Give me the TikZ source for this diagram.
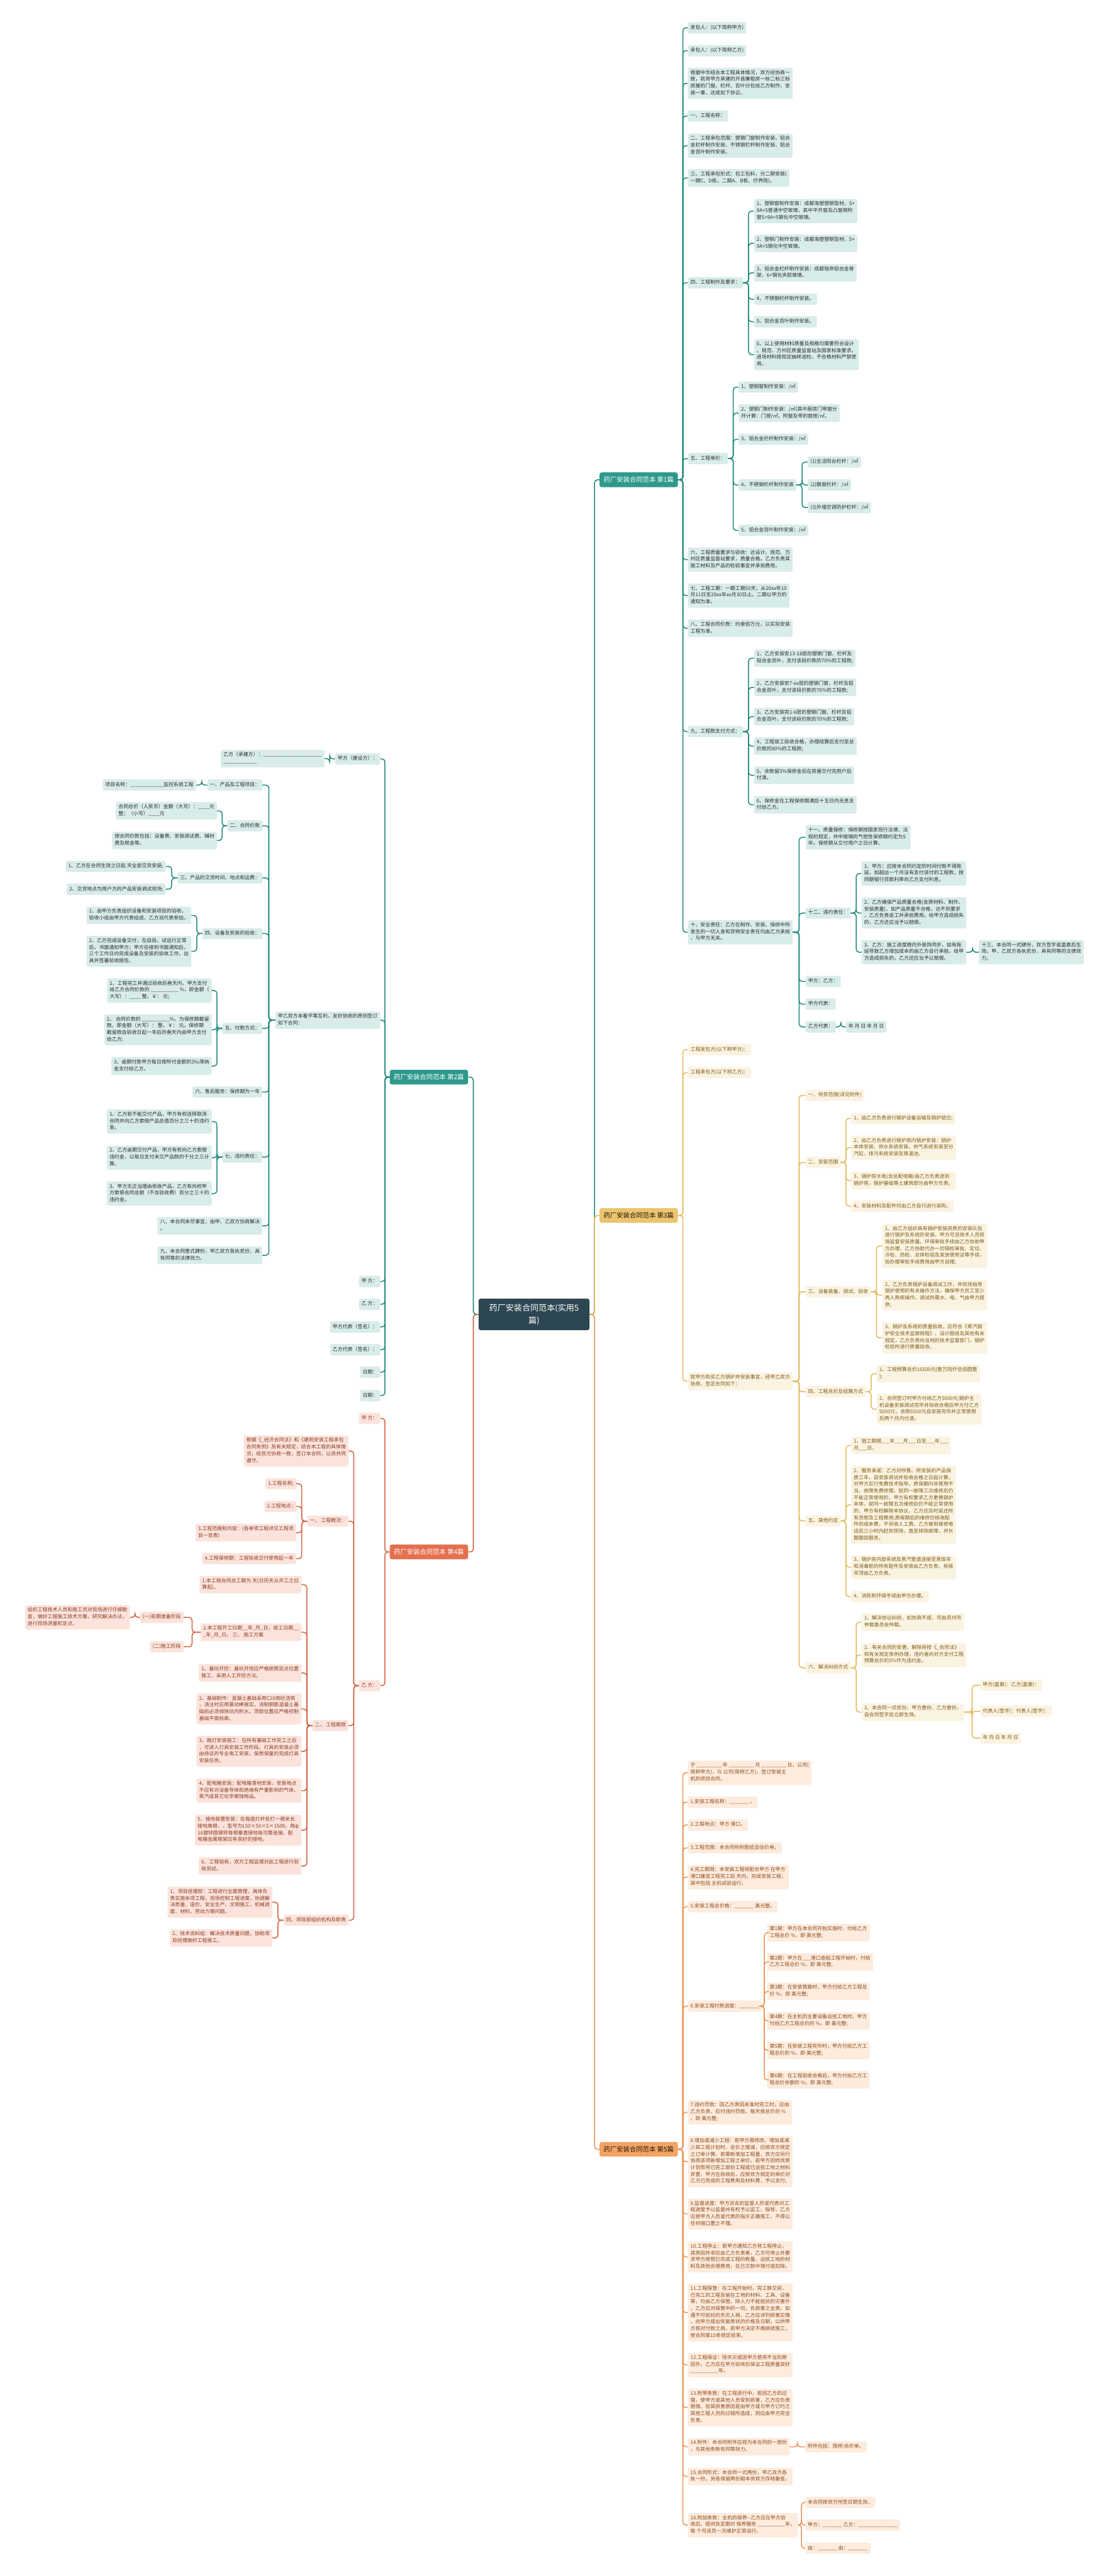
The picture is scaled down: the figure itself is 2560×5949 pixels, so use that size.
\documentclass[tikz,border=0pt]{standalone}
\usepackage{fontspec}
\newfontfamily\cjk{Noto Sans CJK SC}
\usetikzlibrary{calc}

\definecolor{hubfill}{HTML}{2C4652}
\definecolor{tealmain}{HTML}{2E9A8C}
\definecolor{tealsoft}{HTML}{D8ECEA}
\definecolor{tealline}{HTML}{1F8A7B}
\definecolor{tealtext}{HTML}{2B2B2B}
\definecolor{goldmain}{HTML}{EBC46E}
\definecolor{goldsoft}{HTML}{FBF3E1}
\definecolor{goldline}{HTML}{E3B95A}
\definecolor{goldtext}{HTML}{7A5A18}
\definecolor{redmain}{HTML}{E4704F}
\definecolor{redsoft}{HTML}{FBE3DC}
\definecolor{redline}{HTML}{D2603E}
\definecolor{redtext}{HTML}{8A3A22}
\definecolor{orgmain}{HTML}{F2A464}
\definecolor{orgsoft}{HTML}{FDEBDD}
\definecolor{orgline}{HTML}{EA9456}
\definecolor{orgtext}{HTML}{8A4A1C}

\tikzset{
  box/.style={rounded corners=4pt, inner xsep=6pt, inner ysep=5.25pt, align=left,
    font=\cjk\fontsize{11.5}{15.5}\selectfont,
    execute at begin node=\strut, execute at end node=\strut},
  tb/.style={box, fill=tealsoft, text=tealtext},
  gb/.style={box, fill=goldsoft, text=goldtext},
  rb/.style={box, fill=redsoft, text=redtext},
  ob/.style={box, fill=orgsoft, text=orgtext},
  mainbox/.style={rounded corners=5pt, minimum width=181pt, minimum height=34pt,
    inner sep=0pt, font=\cjk\fontsize{15}{18}\selectfont},
  hubbox/.style={rounded corners=5pt, minimum width=256pt, minimum height=73pt,
    align=center, fill=hubfill, text=white, font=\cjk\fontsize{19}{29}\selectfont},
  link/.style={line width=2.2pt, rounded corners=7pt},
  tl/.style={link, draw=tealline},
  gl/.style={link, draw=goldline},
  rl/.style={link, draw=redline},
  ol/.style={link, draw=orgline}
}

% elbow connectors, trunk halfway between parent and child
\newcommand{\linkR}[3]{\draw[#1] (#2.east) -| ($(#2.east)!.5!(#3.west)$) |- (#3.west);}
\newcommand{\linkL}[3]{\draw[#1] (#2.west) -| ($(#2.west)!.5!(#3.east)$) |- (#3.east);}

\begin{document}
\begin{tikzpicture}[x=1pt, y=-1pt]
  \useasboundingbox[fill=white] (0,0) rectangle (2560,5949);

  % Hub and the five parts
  \node[hubbox] (hub) at (1233,3035.5) {药厂安装合同范本(实用5\\篇)};
  \node[mainbox, fill=tealmain, text=white, anchor=west] (b1) at (1384,1108) {药厂安装合同范本 第1篇};
  \node[mainbox, fill=tealmain, text=white, anchor=east] (b2) at (1081,2487.5) {药厂安装合同范本 第2篇};
  \node[mainbox, fill=goldmain, text=black!75!goldtext, anchor=west] (b3) at (1384,2807) {药厂安装合同范本 第3篇};
  \node[mainbox, fill=redmain, text=white, anchor=east] (b4) at (1081,3584) {药厂安装合同范本 第4篇};
  \node[mainbox, fill=orgmain, text=black!70!orgtext, anchor=west] (b5) at (1384,4963.5) {药厂安装合同范本 第5篇};

  % Part 1
  \node[tb, anchor=west] (p1a) at (1588,64) {发包人：(以下简称甲方)};
  \node[tb, anchor=west] (p1b) at (1588,117) {承包人：(以下简称乙方)};
  \node[tb, anchor=west] (p1c) at (1588,192.5) {根据中华结合本工程具体情况，双方经协商一\\致，就将甲方承建的开县廉租房一标二标三标\\房屋的门窗、栏杆、百叶分包给乙方制作、安\\装一事，达成如下协议。};
  \node[tb, anchor=west] (p1d) at (1588,268) {一、工程名称：};
  \node[tb, anchor=west] (p1e) at (1588,336.5) {二、工程承包范围：塑钢门窗制作安装、铝合\\金栏杆制作安装、不锈钢栏杆制作安装、铝合\\金百叶制作安装。};
  \node[tb, anchor=west] (p1f) at (1588,411) {三、工程承包形式：包工包料，分二期安装(\\一期C、D栋，二期A、B栋、疗养院)。};
  \node[tb, anchor=west] (p1g) at (1588,653) {四、工程制作及要求：};
  \node[tb, anchor=west] (p1g1) at (1741,487.5) {1、塑钢窗制作安装：成都海塑塑钢型材，5+\\9A+5普通中空玻璃，其中平开窗及凸窗倒附\\窗5+9A+5钢化中空玻璃。};
  \node[tb, anchor=west] (p1g2) at (1741,562) {2、塑钢门制作安装：成都海塑塑钢型材，5+\\9A+5钢化中空玻璃。};
  \node[tb, anchor=west] (p1g3) at (1741,630) {3、铝合金栏杆制作安装：成都铭帝铝合金骨\\架，6+钢化夹胶玻璃。};
  \node[tb, anchor=west] (p1g4) at (1741,691) {4、不锈钢栏杆制作安装。};
  \node[tb, anchor=west] (p1g5) at (1741,743) {5、铝合金百叶制作安装。};
  \node[tb, anchor=west] (p1g6) at (1741,819) {6、以上使用材料质量及规格均需要符合设计\\、规范、万州区质量监督站及国家标准要求。\\进场材料按规定抽样送检，不合格材料严禁使\\用。};
  \node[tb, anchor=west] (p1h) at (1588,1059) {五、工程单价：};
  \node[tb, anchor=west] (p1h1) at (1705,894) {1、塑钢窗制作安装：/㎡};
  \node[tb, anchor=west] (p1h2) at (1705,954) {2、塑钢门制作安装：/㎡(其中厨房门带窗分\\开计算：门按/㎡，附窗及带的窗按/㎡。};
  \node[tb, anchor=west] (p1h3) at (1705,1014.5) {3、铝合金栏杆制作安装：/㎡};
  \node[tb, anchor=west] (p1h4) at (1705,1120) {4、不锈钢栏杆制作安装};
  \node[tb, anchor=west] (p1h41) at (1865,1067) {(1)生活阳台栏杆：/㎡};
  \node[tb, anchor=west] (p1h42) at (1865,1120) {(2)飘窗栏杆：/㎡};
  \node[tb, anchor=west] (p1h43) at (1865,1172) {(3)外墙空调防护栏杆：/㎡};
  \node[tb, anchor=west] (p1h5) at (1705,1225) {5、铝合金百叶制作安装：/㎡};
  \node[tb, anchor=west] (p1i) at (1588,1292.5) {六、工程质量要求与验收：达设计、规范、万\\州区质量监督站要求，质量合格。乙方负责其\\施工材料及产品的检验事宜并承担费用。};
  \node[tb, anchor=west] (p1j) at (1588,1375.5) {七、工程工期：一期工期50天，从20xx年10\\月11日至20xx年xx月30日止。二期以甲方的\\通知为准。};
  \node[tb, anchor=west] (p1k) at (1588,1451) {八、工程合同价款：约叁佰万元，以实际安装\\工程为准。};
  \node[tb, anchor=west] (p1l) at (1588,1689.5) {九、工程款支付方式：};
  \node[tb, anchor=west] (p1l1) at (1741,1520) {1、乙方安装安13-18层的塑钢门窗、栏杆及\\铝合金百叶，支付该段价款的70\%的工程款;};
  \node[tb, anchor=west] (p1l2) at (1741,1587.5) {2、乙方安装安7-xx层的塑钢门窗、栏杆及铝\\合金百叶，支付该段价款的70\%的工程款;};
  \node[tb, anchor=west] (p1l3) at (1741,1655) {3、乙方安装完1-6层的塑钢门窗、栏杆及铝\\合金百叶，支付该段价款的70\%的工程款;};
  \node[tb, anchor=west] (p1l4) at (1741,1723) {4、工程竣工验收合格，办理结算后支付至总\\价款的80\%的工程款;};
  \node[tb, anchor=west] (p1l5) at (1741,1790.5) {5、余款留5\%保修金后在房屋交付完用户后\\付清。};
  \node[tb, anchor=west] (p1l6) at (1741,1858.5) {6、保修金在工程保修期满后十五日内无息支\\付给乙方。};
  \node[tb, anchor=west] (p1m) at (1588,2153) {十、安全责任：乙方在制作、安装、保修中所\\发生的一切人身和货物安全责任均由乙方承担\\，与甲方无关。};
  \node[tb, anchor=west] (p1m1) at (1860,1933.5) {十一、质量保修：保修期按国家现行法律、法\\规的规定，共中玻璃的气密性保修期约定为5\\年。保修期从交付用户之日计算。};
  \node[tb, anchor=west] (p1m2) at (1860,2108.5) {十二、违约责任：};
  \node[tb, anchor=west] (p1m21) at (1989,2017.5) {1、甲方：应按本合同约定的时间付款不得拖\\延，如超出一个月没有支付该付的工程款，按\\同期银行贷款利率向乙方支付利息。};
  \node[tb, anchor=west] (p1m22) at (1989,2108.5) {2、乙方确保产品质量合格(含原材料、制作、\\安装质量)，如产品质量不合格，达不到要求\\，乙方负责返工并承担费用。给甲方造成损失\\的，乙方还应当予以赔偿。};
  \node[tb, anchor=west] (p1m23) at (1989,2199) {3、乙方：施工进度随内外装饰同步，如有拖\\延导致乙方增加成本的由乙方自行承担。给甲\\方造成损失的，乙方还应当予以赔偿。};
  \node[tb, anchor=west] (p1m231) at (2260,2199) {十三、本合同一式肆份，双方签字或盖章后生\\效。甲、乙双方各执贰份，具有同等的法律效\\力。};
  \node[tb, anchor=west] (p1m3) at (1860,2266.5) {甲方：乙方：};
  \node[tb, anchor=west] (p1m4) at (1860,2319) {甲方代表：};
  \node[tb, anchor=west] (p1m5) at (1860,2371.5) {乙方代表：};
  \node[tb, anchor=west] (p1m51) at (1953,2371.5) {年 月 日 年 月 日};

  % Part 2
  \node[tb, anchor=east] (p2a) at (878,1752.5) {甲方（建设方）：};
  \node[tb, anchor=east] (p2a1) at (749,1752) {乙方（承建方）：\_\_\_\_\_\_\_\_\_\_\_\_\_\_\_\_\_\_\_\_\_\\\_\_\_\_\_\_\_\_\_\_\_\_};
  \node[tb, anchor=east] (p2b) at (878,2356) {甲乙双方本着平等互利，友好协商的原则签订\\如下合同：};
  \node[tb, anchor=east] (p2b1) at (606,1813) {一、产品及工程项目：};
  \node[tb, anchor=east] (p2b11) at (453,1813) {项目名称：\_\_\_\_\_\_\_\_\_\_\_\_监控系统工程};
  \node[tb, anchor=east] (p2b2) at (606,1907) {二、合同价款};
  \node[tb, anchor=east] (p2b21) at (501,1872.5) {合同总价（人民币）金额（大写）：\_\_\_\_元\\整；（小写）\_\_\_\_元};
  \node[tb, anchor=east] (p2b22) at (501,1941) {按合同价款包括：设备费、安装调试费、辅材\\费及税金等。};
  \node[tb, anchor=east] (p2b3) at (606,2027.5) {三、产品的交货时间、地点和运费：};
  \node[tb, anchor=east] (p2b31) at (383,2001) {1、乙方在合同生效之日起 天全部交货安装;};
  \node[tb, anchor=east] (p2b32) at (383,2053.5) {2、交货地点为用户方的产品安装调试现场;};
  \node[tb, anchor=east] (p2b4) at (606,2156) {四、设备及安装的验收：};
  \node[tb, anchor=east] (p2b41) at (442,2114) {1、由甲方负责组织设备和安装项目的验收。\\验收小组由甲方代表组成，乙方派代表参加。};
  \node[tb, anchor=east] (p2b42) at (442,2197) {2、乙方完成设备交付，在自验、试运行正常\\后，书面通知甲方；甲方在接到书面通知后，\\三个工作日内完成设备及安装的验收工作，出\\具并签署验收报告。};
  \node[tb, anchor=east] (p2b5) at (606,2375) {五、付款方式：};
  \node[tb, anchor=east] (p2b51) at (489,2287.5) {1、工程完工并通过验收后叁天内，甲方支付\\给乙方合同价款的 \_\_\_\_\_\_\_\_\_\_ \%，即金额（\\大写）：\_\_\_\_ 整，￥： 元;};
  \node[tb, anchor=east] (p2b52) at (489,2378) {2、 合同价款的 \_\_\_\_\_\_\_\_\_\_\%，为保修期截留\\款，即金额（大写）： 整，￥： 元。保修期\\截留款自验收日起一年后的叁天内由甲方支付\\给乙方;};
  \node[tb, anchor=east] (p2b53) at (489,2462) {3、逾期付款甲方每日按所付金额的3‰滞纳\\金支付给乙方。};
  \node[tb, anchor=east] (p2b6) at (606,2522) {六、售后服务：保修期为一年};
  \node[tb, anchor=east] (p2b7) at (606,2672) {七、违约责任：};
  \node[tb, anchor=east] (p2b71) at (489,2590) {1、乙方若不能交付产品，甲方有权选择取消\\合同并向乙方索偿产品总值百分之三十的违约\\金。};
  \node[tb, anchor=east] (p2b72) at (489,2673.5) {2、乙方逾期交付产品，甲方有权向乙方索偿\\违约金，以每日支付未交产品款的千分之三计\\算。};
  \node[tb, anchor=east] (p2b73) at (489,2756.5) {3、甲方无正当理由拒收产品，乙方有向权甲\\方索偿合同总额（不含验收费）百分之三十的\\违约金。};
  \node[tb, anchor=east] (p2b8) at (606,2831) {八、本合同未尽事宜，由甲、乙双方协商解决\\。};
  \node[tb, anchor=east] (p2b9) at (606,2899) {九、本合同壹式肆份，甲乙双方各执贰份，具\\有同等的法律效力。};
  \node[tb, anchor=east] (p2c) at (878,2959.5) {甲 方：};
  \node[tb, anchor=east] (p2d) at (878,3012) {乙 方：};
  \node[tb, anchor=east] (p2e) at (878,3064.5) {甲方代表（签名）：};
  \node[tb, anchor=east] (p2f) at (878,3117) {乙方代表（签名）：};
  \node[tb, anchor=east] (p2g) at (878,3169) {日期：};
  \node[tb, anchor=east] (p2h) at (878,3223) {日期：};

  % Part 3
  \node[gb, anchor=west] (p3a) at (1588,2424) {工程发包方(以下称甲方)：};
  \node[gb, anchor=west] (p3b) at (1588,2477) {工程承包方(以下称乙方)：};
  \node[gb, anchor=west] (p3c) at (1588,3190) {就甲方购买乙方锅炉并安装事宜，经甲乙双方\\协商，签定合同如下：};
  \node[gb, anchor=west] (p3c1) at (1860,2529.5) {一、供货范围(详见附件)};
  \node[gb, anchor=west] (p3c2) at (1860,2684.5) {二、安装范围};
  \node[gb, anchor=west] (p3c21) at (1965,2583) {1、由乙方负责进行锅炉设备运输及锅炉就位;};
  \node[gb, anchor=west] (p3c22) at (1965,2650.5) {2、由乙方负责进行锅炉房内锅炉安装：锅炉\\本体安装、供水系统安装、供气系统安装至分\\汽缸、排污系统安装至降温池。};
  \node[gb, anchor=west] (p3c23) at (1965,2726) {3、锅炉房水电(含总配电箱)由乙方负责送到\\锅炉房，锅炉基础等土建筑部分由甲方负责。};
  \node[gb, anchor=west] (p3c24) at (1965,2785.5) {4、安装材料及配件均由乙方自行进行采购。};
  \node[gb, anchor=west] (p3c3) at (1860,2983) {三、设备装备、调试、验收};
  \node[gb, anchor=west] (p3c31) at (2037,2877.5) {1、由乙方组织具有锅炉安装资质的安装队伍\\进行锅炉及系统的安装，甲方可派技术人员现\\场监督安装质量。环保审批手续由乙方协助甲\\方办理，乙方协助代办一切锅检审批、定位、\\冷检、热检、总体检验及发放使用证等手续，\\但办理审批手续费用由甲方自理;};
  \node[gb, anchor=west] (p3c32) at (2037,2991) {2、乙方负责锅炉设备调试工作，并现场指导\\锅炉使用的有关操作方法，确保甲方员工至少\\两人熟练操作。调试所需水、电、气由甲方提\\供;};
  \node[gb, anchor=west] (p3c33) at (2037,3089.5) {3、锅炉及系统的质量验收，应符合《蒸汽锅\\炉安全技术监察规程》、设计图纸及其他有关\\规定，乙方负责向当地的技术监督部门、锅炉\\检验所进行质量验收。};
  \node[gb, anchor=west] (p3c4) at (1860,3214) {四、工程总价及结算方式};
  \node[gb, anchor=west] (p3c41) at (2024,3172) {1、工程预算总价16500元(壹万陆仟伍佰圆整\\);};
  \node[gb, anchor=west] (p3c42) at (2024,3254.5) {2、合同签订时甲方付给乙方5000元;锅炉主\\机设备安装调试完毕并验收合格后甲方付乙方\\5000元，余款6500元自安装完毕并正常使用\\后两个月内付清。};
  \node[gb, anchor=west] (p3c5) at (1860,3512.5) {五、其他约定};
  \node[gb, anchor=west] (p3c51) at (1965,3338) {1、施工期限\_\_\_年\_\_\_月\_\_\_日至\_\_\_年\_\_\_\\月\_\_\_日。};
  \node[gb, anchor=west] (p3c52) at (1965,3475.5) {2、服务承诺：乙方对所售、所安装的产品保\\质三年，自安装调试并验收合格之日起计算，\\对甲方实行免费技术指导。质保期内非使用不\\当，故障免费修理。就同一故障三次维修后仍\\不能正常使用的，甲方有权要求乙方更换锅炉\\本体，就同一故障五次维修后仍不能正常使用\\的，甲方有权解除本协议，乙方应及时返还所\\有货款及工程费用;质保期后的维修仅核收配\\件的成本费，不另收人工费。乙方接到保修电\\话后三小时内赶到现场，直至排除故障，并长\\期跟踪服务。};
  \node[gb, anchor=west] (p3c53) at (1965,3619) {3、锅炉房内部系统及蒸汽管道连接至蒸饭车\\和消毒柜的所有配件及安装由乙方负责。拆装\\吊顶由乙方负责。};
  \node[gb, anchor=west] (p3c54) at (1965,3687) {4、消防和环保手续由甲方办理。};
  \node[gb, anchor=west] (p3c6) at (1860,3851.5) {六、解决纠纷方式};
  \node[gb, anchor=west] (p3c61) at (1989,3746.5) {1、解决协议纠纷，如协商不成，可由苏州市\\仲裁委员会仲裁。};
  \node[gb, anchor=west] (p3c62) at (1989,3822) {2、有关合同的变更、解除将按《\_合同法》\\和有关规定条例办理，违约者向对方支付工程\\预算总价的5\%作为违约金。};
  \node[gb, anchor=west] (p3c63) at (1989,3954) {3、本合同一式贰份，甲方壹份、乙方壹份，\\自合同签字后立即生效。};
  \node[gb, anchor=west] (p3c631) at (2263,3892) {甲方(盖章)：乙方(盖章)：};
  \node[gb, anchor=west] (p3c632) at (2263,3952) {代表人(签字)：代表人(签字)：};
  \node[gb, anchor=west] (p3c633) at (2263,4014) {年 月 日 年 月 日};

  % Part 4
  \node[rb, anchor=east] (p4a) at (878,3275.5) {甲 方：};
  \node[rb, anchor=east] (p4b) at (878,3893) {乙 方：};
  \node[rb, anchor=east] (p4b1) at (805,3351) {根据《\_经济合同法》和《建筑安装工程承包\\合同条例》及有关规定，结合本工程的具体情\\况，经双方协商一致，签订本合同，以资共同\\遵守。};
  \node[rb, anchor=east] (p4b2) at (805,3513) {一、 工程概况：};
  \node[rb, anchor=east] (p4b21) at (684,3426.5) {1.工程名称;};
  \node[rb, anchor=east] (p4b22) at (684,3479) {2.工程地点 ;};
  \node[rb, anchor=east] (p4b23) at (684,3539.5) {3.工程范围和内容：(各单项工程详见工程项\\目一览表)};
  \node[rb, anchor=east] (p4b24) at (684,3599.5) {4.工程保修期：工程验收交付使用起一年};
  \node[rb, anchor=east] (p4b3) at (805,3985) {二、 工程期限};
  \node[rb, anchor=east] (p4b31) at (696,3659.5) {1.本工程合同总工期为 天(日历天从开工之日\\算起)。};
  \node[rb, anchor=east] (p4b32) at (696,3769.5) {2.本工程开工日期\_\_年\_月\_日，竣工日期\_\_\\\_年\_月\_日。 三、 施工方案};
  \node[rb, anchor=east] (p4b321) at (424,3735) {(一)前期准备阶段};
  \node[rb, anchor=east] (p4b3211) at (300,3735) {组织工程技术人员和施工员对现场进行仔细勘\\查，做好工程施工技术方案，研究解决办法，\\进行现场测量和定点。};
  \node[rb, anchor=east] (p4b322) at (424,3803) {(二)施工阶段};
  \node[rb, anchor=east] (p4b33) at (696,3863.5) {1、基坑开挖：基坑开挖应严格按照定点位置\\施工，采用人工开挖方法。};
  \node[rb, anchor=east] (p4b34) at (696,3946.5) {2、基础制作：混凝土基础采用C20商砼浇筑\\，浇注时应用震动棒振实，浇制钢筋混凝土基\\础前必须排除坑内积水。顶部位置应严格控制\\基础平面标高。};
  \node[rb, anchor=east] (p4b35) at (696,4044.5) {3、路灯安装施工：在所有基础工作完工之后\\，可进入灯具安装工作阶段。灯具的安装必须\\由持证的专业电工安装，保质保量的完成灯具\\安装任务。};
  \node[rb, anchor=east] (p4b36) at (696,4135.5) {4、配电箱安装：配电箱落地安装，安装地点\\不应有对设备导体和绝缘有严重影响的气体、\\蒸汽或其它化学腐蚀物品。};
  \node[rb, anchor=east] (p4b37) at (696,4226.5) {5、接地装置安装：在每座灯杆处打一根米长\\接地角钢，，型号为L50×50×5×1500。用φ\\16镀锌圆钢将每根垂直接地极可靠连接。配\\电箱金属框架应有良好的接地。};
  \node[rb, anchor=east] (p4b38) at (696,4309.5) {6、工程验收，双方工程监理对此工程进行验\\收测试。};
  \node[rb, anchor=east] (p4b4) at (805,4434.5) {四、项目部组织机构及职责};
  \node[rb, anchor=east] (p4b41) at (629,4393) {1、项目经理部：工程进行全面管理，具体负\\责实施本项工程，现场控制工程进度，协调解\\决质量、造价、安全生产、文明施工、机械调\\度、材料、劳动力等问题。};
  \node[rb, anchor=east] (p4b42) at (629,4475.5) {2、技术资料组：解决技术质量问题，协助项\\目经理做好工程施工。};

  % Part 5
  \node[ob, anchor=west] (p5a) at (1588,4094) {于 \_\_\_\_\_\_\_\_\_ 年 \_\_\_\_\_\_\_\_\_ 月 \_\_\_\_\_\_\_\_\_ 日，公司(\\简称甲方)，与 公司(简称乙方)，签订安装主\\机的项目合同。};
  \node[ob, anchor=west] (p5b) at (1588,4162) {1.安装工程名称：\_\_\_\_\_\_\_ 。};
  \node[ob, anchor=west] (p5c) at (1588,4214.5) {2.工程地点：甲方 港口。};
  \node[ob, anchor=west] (p5d) at (1588,4267.5) {3.工程范围：本合同所附图纸及估价单。};
  \node[ob, anchor=west] (p5e) at (1588,4335) {4.完工期限：本安装工程将配合甲方 在甲方\\港口建造工程完工后 天内，完成安装工程，\\其中包括 主机试验运行。};
  \node[ob, anchor=west] (p5f) at (1588,4403) {5.安装工程总价格：\_\_\_\_\_\_\_ 美元整。};
  \node[ob, anchor=west] (p5g) at (1588,4633) {6.安装工程付款进度：\_\_\_\_\_\_\_};
  \node[ob, anchor=west] (p5g1) at (1771,4463.5) {第1期：甲方在本合同开始实施时，付给乙方\\工程总价 \%，即 美元整;};
  \node[ob, anchor=west] (p5g2) at (1771,4531) {第2期：甲方在\_\_\_港口造船工程开始时，付给\\乙方工程总价 \%，即 美元整;};
  \node[ob, anchor=west] (p5g3) at (1771,4599) {第3期：在安装管路时，甲方付给乙方工程总\\价 \%，即 美元整;};
  \node[ob, anchor=west] (p5g4) at (1771,4667) {第4期：在主机的主要设备运抵工地时，甲方\\付给乙方工程总价的 \%，即 美元整;};
  \node[ob, anchor=west] (p5g5) at (1771,4735) {第5期：在安装工程完毕时，甲方付给乙方工\\程总价的 \%，即 美元整;};
  \node[ob, anchor=west] (p5g6) at (1771,4803) {第6期：在工程验收合格后，甲方付给乙方工\\程总价余额的 \%，即 美元整;};
  \node[ob, anchor=west] (p5h) at (1588,4878) {7.违约罚款：因乙方原因未准时完工时，应由\\乙方负责，应付违约罚款，每天按总价的 \%\\，即 美元整;};
  \node[ob, anchor=west] (p5i) at (1588,4992) {8.增加或减少工程：若甲方需修改、增加或减\\少其工程计划时，总价之增减，应按双方规定\\之订单计算。若需新增加工程量，双方应另行\\协商该项新增加工程之单价。若甲方因修改原\\计划而将已完工部份工程或已运抵工地之材料\\弃置，甲方在验收后，应按双方规定的单价对\\乙方已完成的工程费用及材料费，予以支付。};
  \node[ob, anchor=west] (p5j) at (1588,5113) {9.监督进度：甲方派去的监督人员或代表对工\\程进度予以监督并有权予以监工、指导。乙方\\应按甲方人员或代表的指示正确施工，不得以\\任何借口置之不理。};
  \node[ob, anchor=west] (p5k) at (1588,5212) {10.工程停止：若甲方通知乙方将工程停止，\\其原因并非应由乙方负责者，乙方可停止并要\\求甲方按照已完成工程的数量、运抵工地的材\\料及其他合理费用，在已交款中增付或扣除。};
  \node[ob, anchor=west] (p5l) at (1588,5340.5) {11.工程保管：在工程开始时，完工移交前，\\已完工的工程及留在工地的材料、工具、设备\\等，均由乙方保管。除人力不能抵抗的灾害外\\，乙方应对保管中的一切，负损害之全责。如\\遇不可抵抗的天灾人祸，乙方应详列损害实情\\，向甲方提出恢复原状的价格及日期，以供甲\\方核对付款之用。若甲方决定不再继续施工，\\按合同第10条规定结束。};
  \node[ob, anchor=west] (p5m) at (1588,5461.5) {12.工程保证：除天灾或因甲方使用不当的原\\因外，乙方应在甲方验收后保证工程质量良好\\ \_\_\_\_\_\_\_\_\_\_年。};
  \node[ob, anchor=west] (p5n) at (1588,5560) {13.附带条款：在工程进行中，若因乙方的过\\错，使甲方或其他人员受到损害，乙方应负责\\赔偿。但其损害原因是由甲方或与甲方订约之\\其他工程人员的过错所造成，则应由甲方完全\\负责。};
  \node[ob, anchor=west] (p5o) at (1588,5650.5) {14.附件：本合同附件应视为本合同的一部份\\，与其他条款有同等效力。};
  \node[ob, anchor=west] (p5o1) at (1859,5650.5) {附件包括：图样;估价单。};
  \node[ob, anchor=west] (p5p) at (1588,5719) {15.合同形式：本合同一式两份，甲乙双方各\\执一份。另各保留两份副本供双方存档备查。};
  \node[ob, anchor=west] (p5q) at (1588,5831.5) {16.附加条款：主机的保养--乙方应在甲方验\\收后，提供及定期对 保养服务 \_\_\_\_\_\_\_\_\_\_年，\\每 个月派员一次维护正常运行。};
  \node[ob, anchor=west] (p5q1) at (1859,5779) {本合同按双方所签日期生效。};
  \node[ob, anchor=west] (p5q2) at (1859,5831.5) {甲方：\_\_\_\_\_\_\_ 乙方：\_\_\_\_\_\_\_\_\_\_\_\_\_\_};
  \node[ob, anchor=west] (p5q3) at (1859,5885) {由：\_\_\_\_\_\_\_ 由：\_\_\_\_\_\_\_};

  % Connectors
  \linkR{tl}{hub}{b1}
  \linkL{tl}{hub}{b2}
  \linkR{gl}{hub}{b3}
  \linkL{rl}{hub}{b4}
  \linkR{ol}{hub}{b5}

  \foreach \c in {p1a,p1b,p1c,p1d,p1e,p1f,p1g,p1h,p1i,p1j,p1k,p1l,p1m} {\linkR{tl}{b1}{\c}}
  \foreach \c in {p1g1,p1g2,p1g3,p1g4,p1g5,p1g6} {\linkR{tl}{p1g}{\c}}
  \foreach \c in {p1h1,p1h2,p1h3,p1h4,p1h5} {\linkR{tl}{p1h}{\c}}
  \foreach \c in {p1h41,p1h42,p1h43} {\linkR{tl}{p1h4}{\c}}
  \foreach \c in {p1l1,p1l2,p1l3,p1l4,p1l5,p1l6} {\linkR{tl}{p1l}{\c}}
  \foreach \c in {p1m1,p1m2,p1m3,p1m4,p1m5} {\linkR{tl}{p1m}{\c}}
  \foreach \c in {p1m21,p1m22,p1m23} {\linkR{tl}{p1m2}{\c}}
  \linkR{tl}{p1m23}{p1m231}
  \linkR{tl}{p1m5}{p1m51}

  \foreach \c in {p2a,p2b,p2c,p2d,p2e,p2f,p2g,p2h} {\linkL{tl}{b2}{\c}}
  \linkL{tl}{p2a}{p2a1}
  \foreach \c in {p2b1,p2b2,p2b3,p2b4,p2b5,p2b6,p2b7,p2b8,p2b9} {\linkL{tl}{p2b}{\c}}
  \linkL{tl}{p2b1}{p2b11}
  \foreach \c in {p2b21,p2b22} {\linkL{tl}{p2b2}{\c}}
  \foreach \c in {p2b31,p2b32} {\linkL{tl}{p2b3}{\c}}
  \foreach \c in {p2b41,p2b42} {\linkL{tl}{p2b4}{\c}}
  \foreach \c in {p2b51,p2b52,p2b53} {\linkL{tl}{p2b5}{\c}}
  \foreach \c in {p2b71,p2b72,p2b73} {\linkL{tl}{p2b7}{\c}}

  \foreach \c in {p3a,p3b,p3c} {\linkR{gl}{b3}{\c}}
  \foreach \c in {p3c1,p3c2,p3c3,p3c4,p3c5,p3c6} {\linkR{gl}{p3c}{\c}}
  \foreach \c in {p3c21,p3c22,p3c23,p3c24} {\linkR{gl}{p3c2}{\c}}
  \foreach \c in {p3c31,p3c32,p3c33} {\linkR{gl}{p3c3}{\c}}
  \foreach \c in {p3c41,p3c42} {\linkR{gl}{p3c4}{\c}}
  \foreach \c in {p3c51,p3c52,p3c53,p3c54} {\linkR{gl}{p3c5}{\c}}
  \foreach \c in {p3c61,p3c62,p3c63} {\linkR{gl}{p3c6}{\c}}
  \foreach \c in {p3c631,p3c632,p3c633} {\linkR{gl}{p3c63}{\c}}

  \foreach \c in {p4a,p4b} {\linkL{rl}{b4}{\c}}
  \foreach \c in {p4b1,p4b2,p4b3,p4b4} {\linkL{rl}{p4b}{\c}}
  \foreach \c in {p4b21,p4b22,p4b23,p4b24} {\linkL{rl}{p4b2}{\c}}
  \foreach \c in {p4b31,p4b32,p4b33,p4b34,p4b35,p4b36,p4b37,p4b38} {\linkL{rl}{p4b3}{\c}}
  \foreach \c in {p4b321,p4b322} {\linkL{rl}{p4b32}{\c}}
  \linkL{rl}{p4b321}{p4b3211}
  \foreach \c in {p4b41,p4b42} {\linkL{rl}{p4b4}{\c}}

  \foreach \c in {p5a,p5b,p5c,p5d,p5e,p5f,p5g,p5h,p5i,p5j,p5k,p5l,p5m,p5n,p5o,p5p,p5q} {\linkR{ol}{b5}{\c}}
  \foreach \c in {p5g1,p5g2,p5g3,p5g4,p5g5,p5g6} {\linkR{ol}{p5g}{\c}}
  \linkR{ol}{p5o}{p5o1}
  \foreach \c in {p5q1,p5q2,p5q3} {\linkR{ol}{p5q}{\c}}
\end{tikzpicture}
\end{document}
